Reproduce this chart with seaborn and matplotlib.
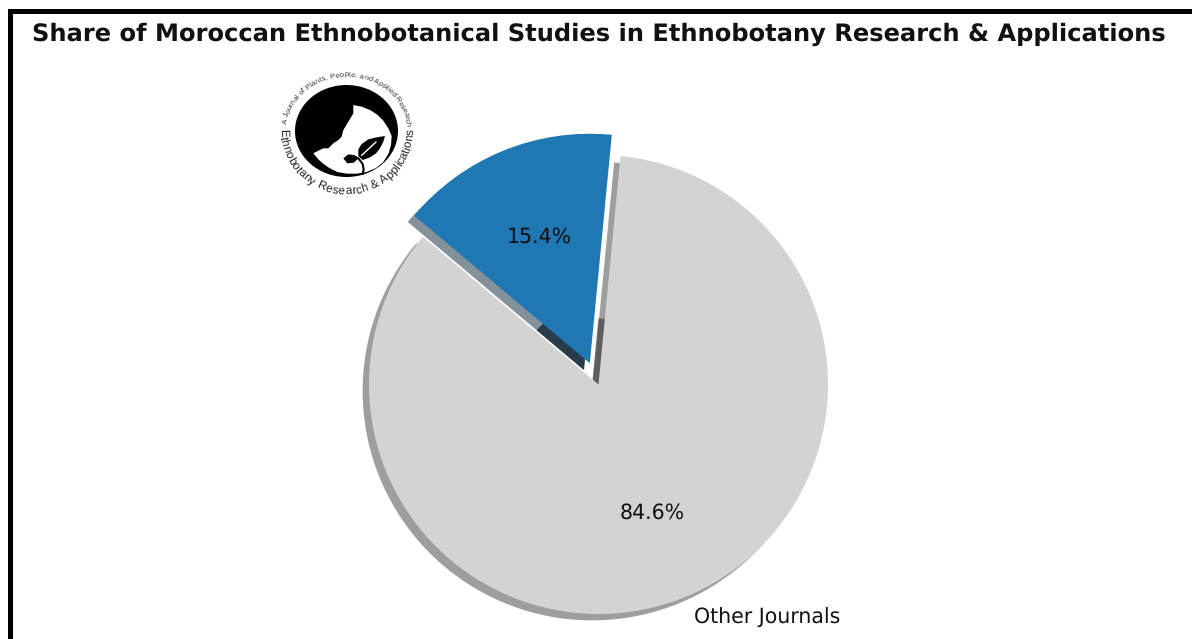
import numpy as np
import matplotlib
matplotlib.use("Agg")
import matplotlib.pyplot as plt
from matplotlib.font_manager import FontProperties
from matplotlib.patches import Ellipse, Polygon, Rectangle, Wedge
from matplotlib.textpath import text_to_path
import seaborn as sns

# Journal share values and labels
categories = ["", "Other Journals"]
shares = [15.4, 84.6]
slice_colors = ["#1f77b4", "lightgray"]
title_text = "Share of Moroccan Ethnobotanical Studies in Ethnobotany Research & Applications"
seal_top_text = "A Journal of Plants, People, and Applied Research"
seal_bottom_text = "Ethnobotany Research & Applications"

sns.set_theme(style="white")
plt.rcParams["font.family"] = ["DejaVu Sans"]
plt.rcParams["text.hinting"] = "none"

W, H = 1192, 639
START_ANGLE = 84.5
EXPLODE = 0.1
fig = plt.figure(figsize=(W / 100, H / 100), dpi=100, facecolor="white")

# Full-figure axes: one data unit equals the pie radius
RADIUS_PX = 229.5
CX, CY = 598.5, 384.5
ax = fig.add_axes([0, 0, 1, 1])
wedges, texts, autotexts = ax.pie(
    shares,
    labels=categories,
    colors=sns.color_palette(slice_colors),
    explode=(EXPLODE, 0),
    startangle=START_ANGLE,
    autopct="%1.1f%%",
    shadow=True,
    wedgeprops={"linewidth": 0},
    textprops={"fontsize": 14.8, "color": "#111111"},
)
for t in autotexts:
    t.set_fontsize(14.8)
    x, y = t.get_position()
    t.set_position((x + 0.005, y - 0.006))
ax.set_xlim(-CX / RADIUS_PX, (W - CX) / RADIUS_PX)
ax.set_ylim((CY - H) / RADIUS_PX, CY / RADIUS_PX)
ax.set_aspect("equal")
ax.axis("off")

# Deeper shading where the two slice shadows gather near the pie centre
blue_span = shares[0] * 3.6
mid = np.radians(START_ANGLE + blue_span / 2)
wedges[0].set_zorder(2)
ax.add_patch(Wedge((EXPLODE * np.cos(mid) - 0.025, EXPLODE * np.sin(mid) - 0.03),
                   0.27, START_ANGLE, START_ANGLE + blue_span,
                   facecolor="#1c2a38", alpha=0.8, edgecolor="none", zorder=0.95))
ax.add_patch(Wedge((-0.03, -0.02), 0.31, START_ANGLE + blue_span, START_ANGLE + 360,
                   facecolor="black", alpha=0.5, edgecolor="none", zorder=0.95))


def to_data(px, py):
    """Canvas pixels (origin top-left) to pie data units."""
    return (px - CX) / RADIUS_PX, (CY - py) / RADIUS_PX


# Outer frame, running off the right and bottom of the canvas
fig.add_artist(Rectangle((9.5 / W, -0.1), 1.2, 1.1 - 11 / H,
                         transform=fig.transFigure, fill=False,
                         edgecolor="black", linewidth=3.6, zorder=5))

fig.text(598.5 / W, 1 - 34 / H, title_text, ha="center", va="center",
         fontsize=17.4, fontweight="bold", color="#111111")

# Journal seal: black disc, white profile cut-out, seedling, ring lettering
SX, SY = 346.5, 131.0
Z = 12


def seal(points):
    """Seal outline points given on a 3x grid anchored at the seal's corner."""
    return [to_data(SX + x / 3 - 56.5, SY + y / 3 - 51) for x, y in points]


ax.add_patch(Ellipse(to_data(SX, SY), 2 * 51.5 / RADIUS_PX, 2 * 46 / RADIUS_PX,
                     facecolor="black", edgecolor="none", zorder=Z))

# White area: rim on the right and below, closed by the face profile
ax.add_patch(Polygon(seal([(190, 75), (215, 80), (240, 90), (262, 104), (280, 122), (295, 145),
                           (305, 168), (303, 195), (296, 220), (280, 246), (258, 264),
                           (230, 276), (200, 281), (170, 281), (142, 276), (118, 264),
                           (98, 250), (85, 238), (70, 220), (85, 212), (100, 205), (115, 205),
                           (130, 190), (145, 180), (155, 170), (160, 150), (175, 125),
                           (190, 100)]),
                     closed=True, facecolor="white", edgecolor="none", zorder=Z + 1))

# Seedling: large leaf, small leaf, stem and midrib
ax.add_patch(Polygon(seal([(205, 228), (205, 208), (215, 192), (235, 178), (260, 172), (285, 168),
                           (280, 185), (270, 205), (258, 220), (240, 232), (218, 240)]),
                     closed=True, facecolor="black", edgecolor="none", zorder=Z + 2))
ax.add_patch(Polygon(seal([(160, 235), (175, 223), (192, 225), (207, 233), (192, 248), (172, 250)]),
                     closed=True, facecolor="black", edgecolor="none", zorder=Z + 2))
ax.plot(*zip(*seal([(205, 235), (218, 252), (221, 268), (218, 282)])),
        color="black", lw=1.5, zorder=Z + 2)
ax.plot(*zip(*seal([(215, 226), (258, 186)])), color="white", lw=1.0, zorder=Z + 3)


def ring_text(label, size, a, b, start_deg, end_deg, upper):
    """Lay a string along an elliptical arc, one glyph at a time."""
    font = FontProperties(family="Liberation Sans", size=size)
    ends = [text_to_path.get_text_width_height_descent(label[:i + 1], font, False)[0]
            for i in range(len(label))]
    total = ends[-1]
    prev = 0.0
    for ch, end in zip(label, ends):
        frac = 0.5 * (prev + end) / total
        prev = end
        deg = start_deg + (end_deg - start_deg) * frac
        rad = np.radians(deg)
        x = SX + a * np.cos(rad)
        y = SY - b * np.sin(rad)
        rot = deg - 90 if upper else deg + 90
        dx, dy = to_data(x, y)
        ax.text(dx, dy, ch, fontproperties=font, rotation=rot, rotation_mode="anchor",
                ha="center", va="center", color="#222222", zorder=Z + 4)


ring_text(seal_top_text, 5.2, 62, 56, 172, 5, True)
ring_text(seal_bottom_text, 8.4, 63.5, 60, 178, 362, False)

fig.savefig("out.png", dpi=100, facecolor="white")
